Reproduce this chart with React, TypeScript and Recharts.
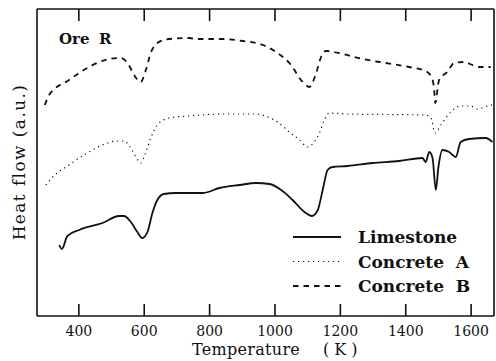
import React from "react";
import { LineChart, Line, XAxis, YAxis, Customized } from "recharts";

const FONT = "'DejaVu Serif', 'Liberation Serif', serif";
const INK = "#111";
const TICK_LEN = 12;

const xTicks = [400, 600, 800, 1000, 1200, 1400, 1600];

// [temperature K, heat flow a.u. (curves offset vertically)]
const limestone: [number, number][] = [
  [340, 71], [348, 67], [365, 80], [401, 86], [472, 93], [523, 100], [538, 100],
  [559, 94], [579, 84], [594, 78], [610, 84], [625, 103], [640, 116], [660, 122],
  [696, 123], [752, 123], [780, 123], [830, 128], [892, 131], [942, 133], [983, 132],
  [1019, 126], [1054, 116], [1090, 104], [1113, 100], [1131, 106], [1146, 126],
  [1161, 146], [1176, 149], [1222, 150], [1298, 153], [1380, 155], [1451, 158],
  [1461, 154], [1472, 164], [1482, 158], [1492, 126], [1500, 149], [1512, 166],
  [1533, 164], [1553, 159], [1568, 174], [1594, 177], [1645, 178], [1665, 174],
];

const concreteA: [number, number][] = [
  [299, 131], [320, 139], [370, 151], [421, 162], [472, 171], [518, 175], [538, 175],
  [559, 168], [574, 159], [589, 153], [605, 164], [620, 178], [640, 191], [676, 198],
  [737, 200], [840, 202], [942, 202], [978, 199], [1008, 194], [1044, 184], [1075, 176],
  [1100, 169], [1120, 174], [1136, 183], [1151, 196], [1166, 203], [1222, 202],
  [1461, 201], [1477, 198], [1490, 183], [1507, 191], [1538, 204], [1568, 210],
  [1599, 210], [1619, 207], [1650, 210], [1664, 211],
];

const concreteB: [number, number][] = [
  [296, 211], [309, 221], [370, 236], [431, 249], [493, 257], [528, 258], [549, 253],
  [569, 241], [589, 234], [605, 246], [620, 263], [640, 273], [676, 277], [737, 278],
  [759, 277], [840, 277], [902, 275], [963, 271], [1003, 264], [1044, 253], [1085, 234],
  [1105, 229], [1126, 243], [1141, 259], [1156, 265], [1207, 262], [1268, 257],
  [1339, 253], [1410, 249], [1461, 245], [1480, 238], [1487, 226], [1490, 213],
  [1502, 236], [1527, 244], [1548, 253], [1578, 254], [1604, 251], [1624, 249], [1660, 249],
];

const SERIES = [
  { name: "Limestone", label: "Limestone", data: limestone, dash: undefined as string | undefined, width: 1.8 },
  { name: "Concrete A", label: "Concrete\u00a0\u00a0A", data: concreteA, dash: "1.2 3.8", width: 1.2 },
  { name: "Concrete B", label: "Concrete\u00a0\u00a0B", data: concreteB, dash: "5.5 5", width: 1.8 },
];

const toRows = (d: [number, number][]) => d.map(([t, v]) => ({ t, v }));

// bottom axis: inward tick mark + label below the axis line
const BOTTOM_MARGIN = 10;
function BottomTick(props: any) {
  const { x, y, payload } = props;
  const axisY = y - BOTTOM_MARGIN;
  return (
    <g>
      <line x1={x} x2={x} y1={axisY} y2={axisY - TICK_LEN} stroke={INK} strokeWidth={1.6} />
      <text x={x} y={y} dy="0.71em" textAnchor="middle" fontSize={14} fontFamily={FONT} fill={INK}>
        {payload.value}
      </text>
    </g>
  );
}

// top axis: inward tick mark only
function TopTick(props: any) {
  const { x, y } = props;
  return <line x1={x} x2={x} y1={y} y2={y + TICK_LEN} stroke={INK} strokeWidth={1.6} />;
}

function Annotations() {
  return (
    <g fontFamily={FONT} fill={INK}>
      <text x={59} y={44} fontSize={15} fontWeight="bold">Ore</text>
      <text x={99} y={44} fontSize={15} fontWeight="bold">R</text>
      <text x={192} y={355} fontSize={16} letterSpacing={0.3}>Temperature</text>
      <text x={323} y={355} fontSize={16}>(&nbsp;K&nbsp;)</text>
      <text transform="translate(25,162) rotate(-90)" textAnchor="middle" fontSize={17} letterSpacing={1.4}>
        Heat flow (a.u.)
      </text>
      {SERIES.map((s, i) => {
        const y = 237 + i * 24.5;
        return (
          <g key={s.name}>
            <line x1={293} x2={341} y1={y} y2={y} stroke={INK} strokeWidth={s.width} strokeDasharray={s.dash} />
            <text x={358} y={y + 6} fontSize={17} fontWeight="bold">{s.label}</text>
          </g>
        );
      })}
    </g>
  );
}

export default function App() {
  const axisStyle = { stroke: INK, strokeWidth: 1.6 };
  return (
    <div style={{ position: "absolute", left: 0, top: 0, width: 496, height: 361, background: "#fff" }}>
      <LineChart width={496} height={361} margin={{ top: 8, right: 1, bottom: 0, left: 36 }}>
        <XAxis
          xAxisId="b"
          dataKey="t"
          type="number"
          domain={[272, 1670]}
          ticks={xTicks}
          allowDataOverflow
          orientation="bottom"
          height={45}
          tickSize={0}
          tickMargin={BOTTOM_MARGIN}
          axisLine={axisStyle}
          tickLine={false}
          tick={<BottomTick />}
        />
        <XAxis
          xAxisId="t"
          dataKey="t"
          type="number"
          domain={[272, 1670]}
          ticks={xTicks}
          allowDataOverflow
          orientation="top"
          height={1}
          tickSize={0}
          tickMargin={0}
          axisLine={axisStyle}
          tickLine={false}
          tick={<TopTick />}
        />
        <YAxis yAxisId="l" type="number" domain={[0, 307]} width={1} tick={false} tickLine={false} axisLine={axisStyle} />
        <YAxis yAxisId="r" orientation="right" type="number" domain={[0, 307]} width={1} tick={false} tickLine={false} axisLine={axisStyle} />
        {SERIES.map((s) => (
          <Line
            key={s.name}
            xAxisId="b"
            yAxisId="l"
            data={toRows(s.data)}
            dataKey="v"
            name={s.name}
            type="monotone"
            stroke={INK}
            strokeWidth={s.width}
            strokeDasharray={s.dash}
            dot={false}
            activeDot={false}
            isAnimationActive={false}
          />
        ))}
        <Customized component={Annotations} />
      </LineChart>
    </div>
  );
}
